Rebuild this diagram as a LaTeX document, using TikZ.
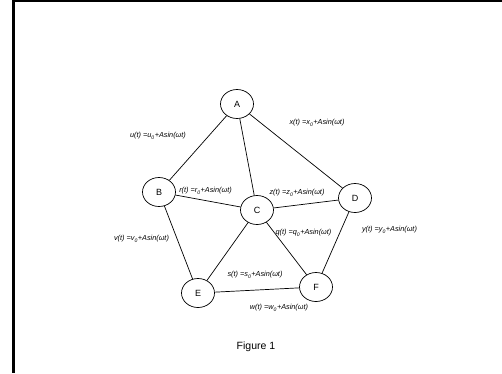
\documentclass[tikz,border=0pt]{standalone}
\usepackage{fontspec}
\setmainfont{Liberation Sans}
\usetikzlibrary{shapes.geometric}
\newcommand{\eqlab}[1]{\textit{#1(t) =#1\textsubscript{0}+Asin(ωt)}}
\begin{document}
\begin{tikzpicture}[x=1pt,y=-1pt,
  vtx/.style={draw,ellipse,line width=0.7pt,minimum width=33pt,minimum height=29pt,inner sep=0pt,font=\fontsize{9}{10}\selectfont},
  edge/.style={line width=0.7pt},
  lbl/.style={inner sep=0pt,font=\fontsize{7.3}{8}\selectfont}]
\useasboundingbox (0,0) rectangle (502,373);
\draw[line width=2.5pt] (13.25,0) -- (13.25,373);
\draw[line width=1.5pt] (12,0.75) -- (502,0.75);
\node[vtx] (A) at (237,104) {A};
\node[vtx] (B) at (159,192) {B};
\node[vtx] (C) at (257,210) {C};
\node[vtx] (D) at (355,198) {D};
\node[vtx] (E) at (198,293) {E};
\node[vtx] (F) at (316,287) {F};
\draw[edge] (A) -- (B);
\draw[edge] (A) -- (C);
\draw[edge] (A) -- (D);
\draw[edge] (B) -- (C);
\draw[edge] (B) -- (E);
\draw[edge] (C) -- (D);
\draw[edge] (C) -- (E);
\draw[edge] (C) -- (F);
\draw[edge] (D) -- (F);
\draw[edge] (E) -- (F);
\node[lbl] (lu) at (158,136) {\eqlab{u}};
\node[lbl] (lx) at (317,123) {\eqlab{x}};
\node[lbl] (lr) at (205.5,191) {\eqlab{r}};
\node[lbl] (lz) at (297,193) {\eqlab{z}};
\node[lbl] (lq) at (303.5,233) {\eqlab{q}};
\node[lbl] (ly) at (389.5,230) {\eqlab{y}};
\node[lbl] (lv) at (141.5,239) {\eqlab{v}};
\node[lbl] (ls) at (255,275) {\eqlab{s}};
\node[lbl] (lw) at (279,308) {\eqlab{w}};
\node[inner sep=0pt,font=\fontsize{10.5}{12}\selectfont] (fig) at (256,347) {Figure 1};
\end{tikzpicture}
\end{document}
